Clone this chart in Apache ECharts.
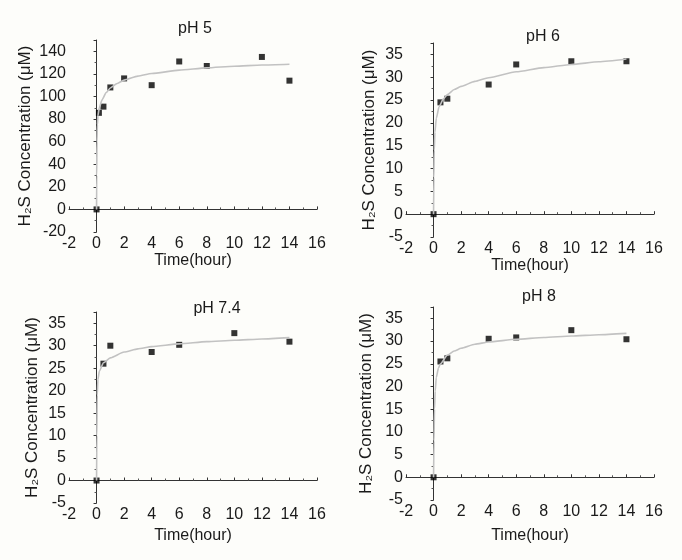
<!DOCTYPE html>
<html>
<head>
<meta charset="utf-8">
<script src="https://cdn.jsdelivr.net/npm/echarts@6/dist/echarts.min.js"></script>
<style>
  html, body { margin: 0; padding: 0; background: #fdfdfa; }
</style>
</head>
<body>
<div id="myCharts" style="width: 682px; height: 560px;"></div>
<script>
  // 测量点 (时间, 浓度)
  var titles = ['pH 5', 'pH 6', 'pH 7.4', 'pH 8'];

  var timePH5 = [0, 0.17, 0.5, 1, 2, 4, 6, 8, 12, 14];
  var concPH5 = [0, 85.5, 91, 108, 116, 110, 131, 127, 135, 114];

  var timePH6 = [0, 0.5, 1, 4, 6, 10, 14];
  var concPH6 = [0, 24.5, 25.3, 28.4, 32.8, 33.5, 33.5];

  var timePH74 = [0, 0.5, 1, 4, 6, 10, 14];
  var concPH74 = [0, 26.0, 30.0, 28.6, 30.2, 32.8, 30.9];

  var timePH8 = [0, 0.5, 1, 4, 6, 10, 14];
  var concPH8 = [0, 25.5, 26.2, 30.5, 30.8, 32.4, 30.4];

  // 拟合曲线
  var fitTimePH5 = [0, 0.01, 0.03, 0.06, 0.1, 0.2, 0.4, 0.7, 1, 1.5, 2, 3, 4, 6, 8, 10, 12, 14];
  var fitConcPH5 = [0, 30, 60, 75, 83, 90, 97, 103.5, 107.5, 111.5, 114.5, 118, 120.3, 123.3, 125.3, 126.8, 127.8, 128.5];

  var fitTimePH6 = [0, 0.02, 0.05, 0.1, 0.2, 0.4, 0.7, 1, 1.5, 2, 3, 4, 6, 8, 10, 12, 14];
  var fitConcPH6 = [0, 8, 14, 18, 21, 23.5, 25.2, 26.2, 27.3, 28, 29.1, 29.9, 31.2, 32.1, 32.8, 33.4, 34];

  var fitTimePH74 = [0, 0.02, 0.05, 0.1, 0.2, 0.5, 1, 2, 3, 4, 6, 8, 10, 12, 14];
  var fitConcPH74 = [0, 10, 19, 22.5, 24.3, 26.2, 27.3, 28.6, 29.3, 29.8, 30.4, 30.9, 31.2, 31.5, 31.8];

  var fitTimePH8 = [0, 0.03, 0.07, 0.12, 0.2, 0.35, 0.5, 1, 1.5, 2, 3, 4, 6, 8, 10, 12, 14];
  var fitConcPH8 = [0, 8, 15, 19, 22, 24, 25, 26.9, 27.8, 28.4, 29.3, 29.8, 30.4, 30.8, 31.1, 31.4, 31.7];

  var yMin = [-20, -5, -5, -5];
  var yMax = [150, 37.5, 37.5, 37.5];
  var yInterval = [20, 5, 5, 5];

  function pairs(xs, ys) {
    return xs.map(function (x, i) { return [x, ys[i]]; });
  }

  var points = [
    pairs(timePH5, concPH5), pairs(timePH6, concPH6),
    pairs(timePH74, concPH74), pairs(timePH8, concPH8)
  ];
  var fits = [
    pairs(fitTimePH5, fitConcPH5), pairs(fitTimePH6, fitConcPH6),
    pairs(fitTimePH74, fitConcPH74), pairs(fitTimePH8, fitConcPH8)
  ];

  var grids = [
    {left: 69, top: 40, width: 248, height: 192},
    {left: 406, top: 43, width: 248, height: 194},
    {left: 69, top: 312, width: 248, height: 191},
    {left: 406, top: 307, width: 248, height: 193}
  ];
  var titlePos = [[190, 16], [538, 24], [212, 296], [534, 284]];
  var xNameGap = [21, 21, 25, 28];
  var yNameGap = [35, 28, 28, 31];

  var font = 'Liberation Sans, Arial, sans-serif';
  var textColor = '#1a1a1a';

  var options = {
    backgroundColor: '#fdfdfa',
    animation: false,
    title: [],
    grid: [],
    xAxis: [],
    yAxis: [],
    series: []
  };

  for (var i = 0; i < 4; i++) {
    options.title.push({
      text: titles[i],
      left: titlePos[i][0],
      top: titlePos[i][1],
      textAlign: 'center',
      textStyle: {fontSize: 16, fontWeight: 'normal', color: textColor, fontFamily: font}
    });
    options.grid.push(grids[i]);
    options.xAxis.push({
      type: 'value',
      gridIndex: i,
      min: -2,
      max: 16,
      interval: 2,
      name: 'Time(hour)',
      nameLocation: 'middle',
      nameGap: xNameGap[i],
      nameTextStyle: {fontSize: 16, color: textColor, fontFamily: font},
      axisLine: {lineStyle: {color: '#333', width: 1}},
      axisTick: {inside: true, length: 3, lineStyle: {color: '#333'}},
      minorTick: {show: true, splitNumber: 2, length: 2, lineStyle: {color: '#555'}},
      axisLabel: {fontSize: 16, color: textColor, fontFamily: font, margin: 4},
      splitLine: {show: false}
    });
    options.yAxis.push({
      type: 'value',
      gridIndex: i,
      min: yMin[i],
      max: yMax[i],
      interval: yInterval[i],
      name: 'H\u2082S Concentration (\u03BCM)',
      nameLocation: 'middle',
      nameGap: yNameGap[i],
      nameTextStyle: {fontSize: 17, color: textColor, fontFamily: font},
      axisLine: {show: true, lineStyle: {color: '#333', width: 1}},
      axisTick: {show: true, length: 3, lineStyle: {color: '#333'}},
      minorTick: {show: true, splitNumber: 2, length: 2, lineStyle: {color: '#555'}},
      axisLabel: {fontSize: 16, color: textColor, fontFamily: font, margin: 3, showMaxLabel: false},
      splitLine: {show: false}
    });
    options.series.push({
      type: 'line',
      xAxisIndex: i,
      yAxisIndex: i,
      data: fits[i],
      smooth: 0.2,
      smoothMonotone: 'x',
      showSymbol: false,
      lineStyle: {color: '#c2c2c2', width: 1.6}
    });
    options.series.push({
      type: 'scatter',
      xAxisIndex: i,
      yAxisIndex: i,
      data: points[i],
      symbol: 'rect',
      symbolSize: 6,
      itemStyle: {color: '#000'}
    });
  }

  var myCharts = echarts.init(document.getElementById('myCharts'));
  myCharts.setOption(options);
</script>
</body>
</html>
